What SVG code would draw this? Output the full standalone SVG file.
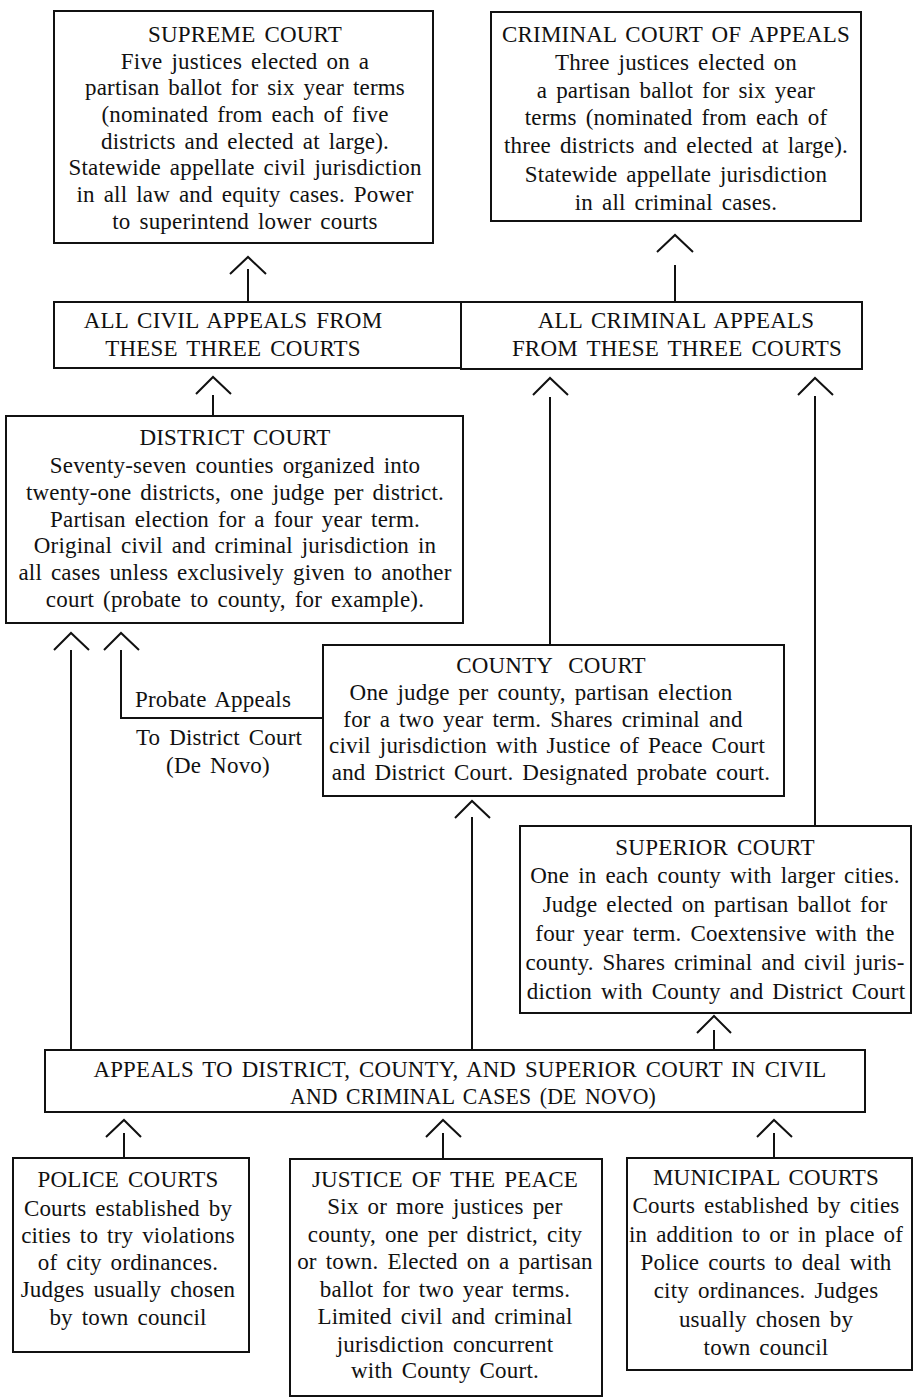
<svg xmlns="http://www.w3.org/2000/svg" width="914" height="1399" viewBox="0 0 914 1399">
<style>
.box{fill:#fff;stroke:#111;stroke-width:2}
.ln{fill:none;stroke:#111;stroke-width:2}
text{font-family:"Liberation Serif","Times New Roman",serif;font-size:23px;fill:#111;text-anchor:middle;letter-spacing:0.2px;word-spacing:3px}
</style>
<rect width="914" height="1399" fill="#fff"/>
<g id="connectors">
<path class="ln" d="M230,274 L248,257 L266,274 M248,269 V302"/>
<path class="ln" d="M657,252 L675,235 L693,252 M675,265 V302"/>
<path class="ln" d="M196,394 L213,377 L231,394 M213,395 V416"/>
<path class="ln" d="M533,395 L550,378 L568,395 M550,397 V645"/>
<path class="ln" d="M798,395 L815,378 L833,395 M815,396 V826"/>
<path class="ln" d="M54,650 L71,633 L89,650 M71,650 V1050"/>
<path class="ln" d="M104,650 L121,633 L139,650 M121,650 V718 H323"/>
<path class="ln" d="M455,818 L472,801 L490,818 M472,817 V1050"/>
<path class="ln" d="M697,1033 L714,1016 L731,1033 M714,1030 V1050"/>
<path class="ln" d="M106,1137 L124,1120 L141,1137 M124,1133 V1158"/>
<path class="ln" d="M426,1137 L443,1120 L461,1137 M443,1133 V1159"/>
<path class="ln" d="M757,1137 L774,1120 L792,1137 M774,1133 V1158"/>
</g>
<g id="supreme-court">
<rect class="box" x="54" y="11" width="379" height="232"/>
<text x="245" y="42">SUPREME COURT</text>
<text x="245" y="69">Five justices elected on a</text>
<text x="245" y="95">partisan ballot for six year terms</text>
<text x="245" y="122">(nominated from each of five</text>
<text x="245" y="149">districts and elected at large).</text>
<text x="245" y="175">Statewide appellate civil jurisdiction</text>
<text x="245" y="202">in all law and equity cases. Power</text>
<text x="245" y="229">to superintend lower courts</text>
</g>
<g id="criminal-court-of-appeals">
<rect class="box" x="491" y="12" width="370" height="209"/>
<text x="676" y="42">CRIMINAL COURT OF APPEALS</text>
<text x="676" y="70">Three justices elected on</text>
<text x="676" y="98">a partisan ballot for six year</text>
<text x="676" y="125">terms (nominated from each of</text>
<text x="676" y="153">three districts and elected at large).</text>
<text x="676" y="182">Statewide appellate jurisdiction</text>
<text x="676" y="210">in all criminal cases.</text>
</g>
<g id="civil-appeals">
<rect class="box" x="54" y="302" width="407" height="66"/>
<text x="233" y="328">ALL CIVIL APPEALS FROM</text>
<text x="233" y="356">THESE THREE COURTS</text>
</g>
<g id="criminal-appeals">
<rect class="box" x="461" y="302" width="401" height="67"/>
<text x="676" y="328">ALL CRIMINAL APPEALS</text>
<text x="677" y="356">FROM THESE THREE COURTS</text>
</g>
<g id="district-court">
<rect class="box" x="6" y="416" width="457" height="207"/>
<text x="235" y="445">DISTRICT COURT</text>
<text x="235" y="473">Seventy-seven counties organized into</text>
<text x="235" y="500">twenty-one districts, one judge per district.</text>
<text x="235" y="527">Partisan election for a four year term.</text>
<text x="235" y="553">Original civil and criminal jurisdiction in</text>
<text x="235" y="580">all cases unless exclusively given to another</text>
<text x="235" y="607">court (probate to county, for example).</text>
</g>
<g id="probate-label">
<text x="213" y="707">Probate Appeals</text>
<text x="219" y="745">To District Court</text>
<text x="218" y="773">(De Novo)</text>
</g>
<g id="county-court">
<rect class="box" x="323" y="645" width="461" height="151"/>
<text x="551" y="673" style="word-spacing:10px">COUNTY COURT</text>
<text x="541" y="700">One judge per county, partisan election</text>
<text x="543" y="727">for a two year term. Shares criminal and</text>
<text x="547" y="753">civil jurisdiction with Justice of Peace Court</text>
<text x="551" y="780">and District Court. Designated probate court.</text>
</g>
<g id="superior-court">
<rect class="box" x="520" y="826" width="391" height="187"/>
<text x="715" y="855">SUPERIOR COURT</text>
<text x="715" y="883">One in each county with larger cities.</text>
<text x="715" y="912">Judge elected on partisan ballot for</text>
<text x="715" y="941">four year term. Coextensive with the</text>
<text x="715" y="970">county. Shares criminal and civil juris-</text>
<text x="716" y="999">diction with County and District Court</text>
</g>
<g id="trial-appeals">
<rect class="box" x="45" y="1050" width="820" height="62"/>
<text x="460" y="1077" textLength="733" lengthAdjust="spacingAndGlyphs">APPEALS TO DISTRICT, COUNTY, AND SUPERIOR COURT IN CIVIL</text>
<text x="473" y="1104" textLength="366" lengthAdjust="spacingAndGlyphs">AND CRIMINAL CASES (DE NOVO)</text>
</g>
<g id="police-courts">
<rect class="box" x="13" y="1158" width="236" height="194"/>
<text x="128" y="1187">POLICE COURTS</text>
<text x="128" y="1216">Courts established by</text>
<text x="128" y="1243">cities to try violations</text>
<text x="128" y="1270">of city ordinances.</text>
<text x="128" y="1297">Judges usually chosen</text>
<text x="128" y="1325">by town council</text>
</g>
<g id="justice-of-the-peace">
<rect class="box" x="290" y="1159" width="312" height="237"/>
<text x="445" y="1187">JUSTICE OF THE PEACE</text>
<text x="445" y="1214">Six or more justices per</text>
<text x="445" y="1242">county, one per district, city</text>
<text x="445" y="1269">or town. Elected on a partisan</text>
<text x="445" y="1297">ballot for two year terms.</text>
<text x="445" y="1324">Limited civil and criminal</text>
<text x="445" y="1352">jurisdiction concurrent</text>
<text x="445" y="1378">with County Court.</text>
</g>
<g id="municipal-courts">
<rect class="box" x="627" y="1158" width="285" height="212"/>
<text x="766" y="1185">MUNICIPAL COURTS</text>
<text x="766" y="1213">Courts established by cities</text>
<text x="766" y="1242">in addition to or in place of</text>
<text x="766" y="1270">Police courts to deal with</text>
<text x="766" y="1298">city ordinances. Judges</text>
<text x="766" y="1327">usually chosen by</text>
<text x="766" y="1355">town council</text>
</g>
</svg>
